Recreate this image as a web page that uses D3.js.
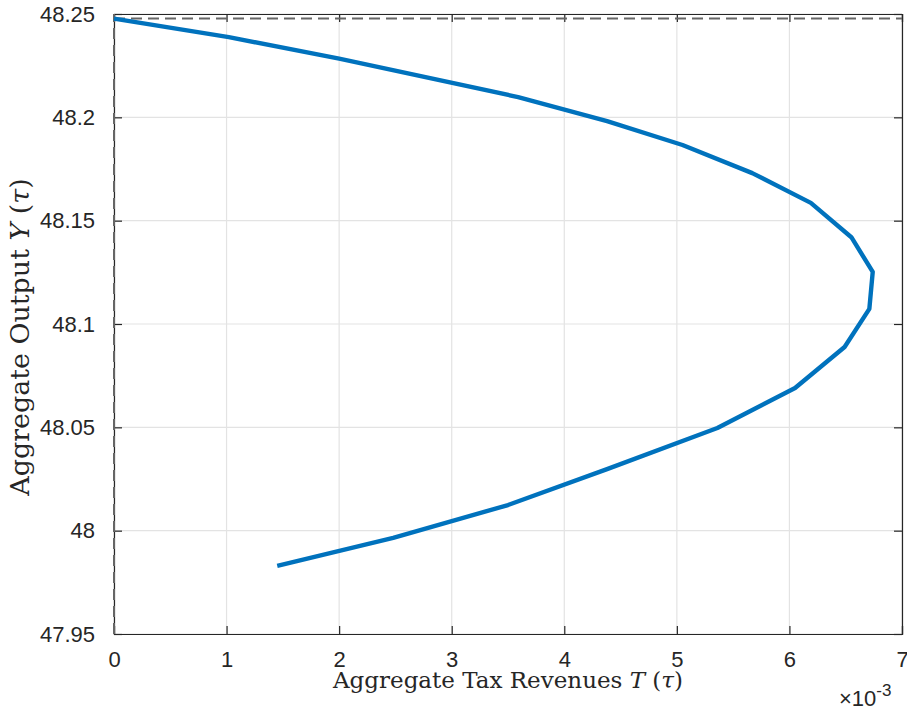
<!DOCTYPE html>
<html>
<head>
<meta charset="utf-8">
<script src="https://cdn.jsdelivr.net/npm/d3@7"></script>
<style>
  body { margin: 0; background: #fff; }
  svg text { fill: #262626; }
</style>
</head>
<body>
<div id="chartHolder"></div>
<script>
// tax revenues T(tau) and aggregate output Y(tau)
const taxRevenue = [0, 0.00102, 0.00200, 0.00359, 0.00438, 0.00505, 0.00567, 0.00619,
  0.00655, 0.00674, 0.00671, 0.00649, 0.00605, 0.00536, 0.00438, 0.00350, 0.00248, 0.00145];
const output = [48.2478, 48.2388, 48.2284, 48.2098, 48.1982, 48.1866, 48.1730, 48.1586,
  48.1420, 48.1252, 48.1073, 48.0889, 48.0690, 48.0497, 48.0298, 48.0124, 47.9965, 47.9830];
const xTicks = [0, 0.001, 0.002, 0.003, 0.004, 0.005, 0.006, 0.007];
const yTicks = [47.95, 48, 48.05, 48.1, 48.15, 48.2, 48.25];
const refOutput = 48.2478;   // dashed horizontal
const refTax = 0;            // dashed vertical

const width = 907;
const height = 712;
const plotL = 114, plotR = 902, plotT = 14, plotB = 634;

var svg = d3.select("#chartHolder")
  .append("svg")
  .attr("width", width)
  .attr("height", height)
  .style("font-family", "'Liberation Sans', Arial, sans-serif");

const xScale = d3.scaleLinear().domain([0, 0.007]).range([plotL, plotR]);
const yScale = d3.scaleLinear().domain([47.95, 48.25]).range([plotB, plotT]);

// grid
svg.append("g")
  .selectAll("line")
  .data(xTicks)
  .enter()
  .append("line")
  .attr("x1", d => xScale(d)).attr("x2", d => xScale(d))
  .attr("y1", plotT).attr("y2", plotB)
  .attr("stroke", "#e3e3e3").attr("stroke-width", 1.2);
svg.append("g")
  .selectAll("line")
  .data(yTicks)
  .enter()
  .append("line")
  .attr("x1", plotL).attr("x2", plotR)
  .attr("y1", d => yScale(d)).attr("y2", d => yScale(d))
  .attr("stroke", "#e3e3e3").attr("stroke-width", 1.2);

// axes, ticks pointing inward on every side
const tickLen = 8;
const xAxis = d3.axisBottom(xScale).tickValues(xTicks)
  .tickSize(-tickLen).tickPadding(tickLen + 11)
  .tickFormat(d => d3.format("d")(Math.round(d * 1000)));
const gx = svg.append("g").attr("transform", `translate(0,${plotB})`).call(xAxis);
const yAxis = d3.axisLeft(yScale).tickValues(yTicks)
  .tickSize(-tickLen).tickPadding(tickLen + 11)
  .tickFormat(d => String(+d.toFixed(2)));
const gy = svg.append("g").attr("transform", `translate(${plotL},0)`).call(yAxis);
svg.append("g").attr("transform", `translate(0,${plotT})`)
  .call(d3.axisTop(xScale).tickValues(xTicks).tickSize(-tickLen).tickFormat(""));
svg.append("g").attr("transform", `translate(${plotR},0)`)
  .call(d3.axisRight(yScale).tickValues(yTicks).tickSize(-tickLen).tickFormat(""));

svg.selectAll(".domain").attr("stroke", "#262626").attr("stroke-width", 1.2);
svg.selectAll(".tick line").attr("stroke", "#262626").attr("stroke-width", 1.2);
svg.selectAll(".tick text")
  .style("font-size", "22px")
  .style("font-family", "'Liberation Sans', Arial, sans-serif")
  .attr("fill", "#262626");
gx.selectAll(".tick text").attr("dy", "0.71em").attr("y", 17);

// exponent label
const expo = svg.append("text")
  .attr("x", 839).attr("y", 706)
  .style("font-size", "22px");
expo.append("tspan").text("×10");
expo.append("tspan").attr("dy", -10).style("font-size", "17px").text("-3");

// reference dashed lines
svg.append("line")
  .attr("x1", xScale(0)).attr("x2", xScale(0.007))
  .attr("y1", yScale(refOutput)).attr("y2", yScale(refOutput))
  .attr("stroke", "#666").attr("stroke-width", 2)
  .attr("stroke-dasharray", "11,6");
svg.append("line")
  .attr("x1", xScale(refTax)).attr("x2", xScale(refTax))
  .attr("y1", yScale(47.95)).attr("y2", yScale(48.25))
  .attr("stroke", "#666").attr("stroke-width", 2)
  .attr("stroke-dasharray", "11,6");

// curve
const line = d3.line()
  .x((d, i) => xScale(taxRevenue[i]))
  .y(d => yScale(d));
svg.append("path")
  .datum(output)
  .attr("d", line)
  .attr("fill", "none")
  .attr("stroke", "#0072BD")
  .attr("stroke-width", 4.4)
  .attr("stroke-linejoin", "round");

// axis labels (latex-ish), font size fitted to the wanted width
const serif = "'DejaVu Serif', 'Liberation Serif', serif";
function mathLabel(sel, word, sym, wantLen) {
  sel.attr("text-anchor", "middle")
    .style("font-family", serif)
    .style("font-size", "20px");
  sel.append("tspan").text(word + " ");
  sel.append("tspan").style("font-style", "italic").text(sym);
  sel.append("tspan").text(" (");
  sel.append("tspan").style("font-style", "italic").text("τ");
  sel.append("tspan").text(")");
  const len = sel.node().getComputedTextLength();
  sel.style("font-size", (20 * wantLen / len).toFixed(1) + "px");
}
mathLabel(svg.append("text").attr("x", 508).attr("y", 688),
  "Aggregate Tax Revenues", "T", 350);
mathLabel(svg.append("text").attr("transform", "translate(29,337) rotate(-90)"),
  "Aggregate Output", "Y", 318);
</script>
</body>
</html>
